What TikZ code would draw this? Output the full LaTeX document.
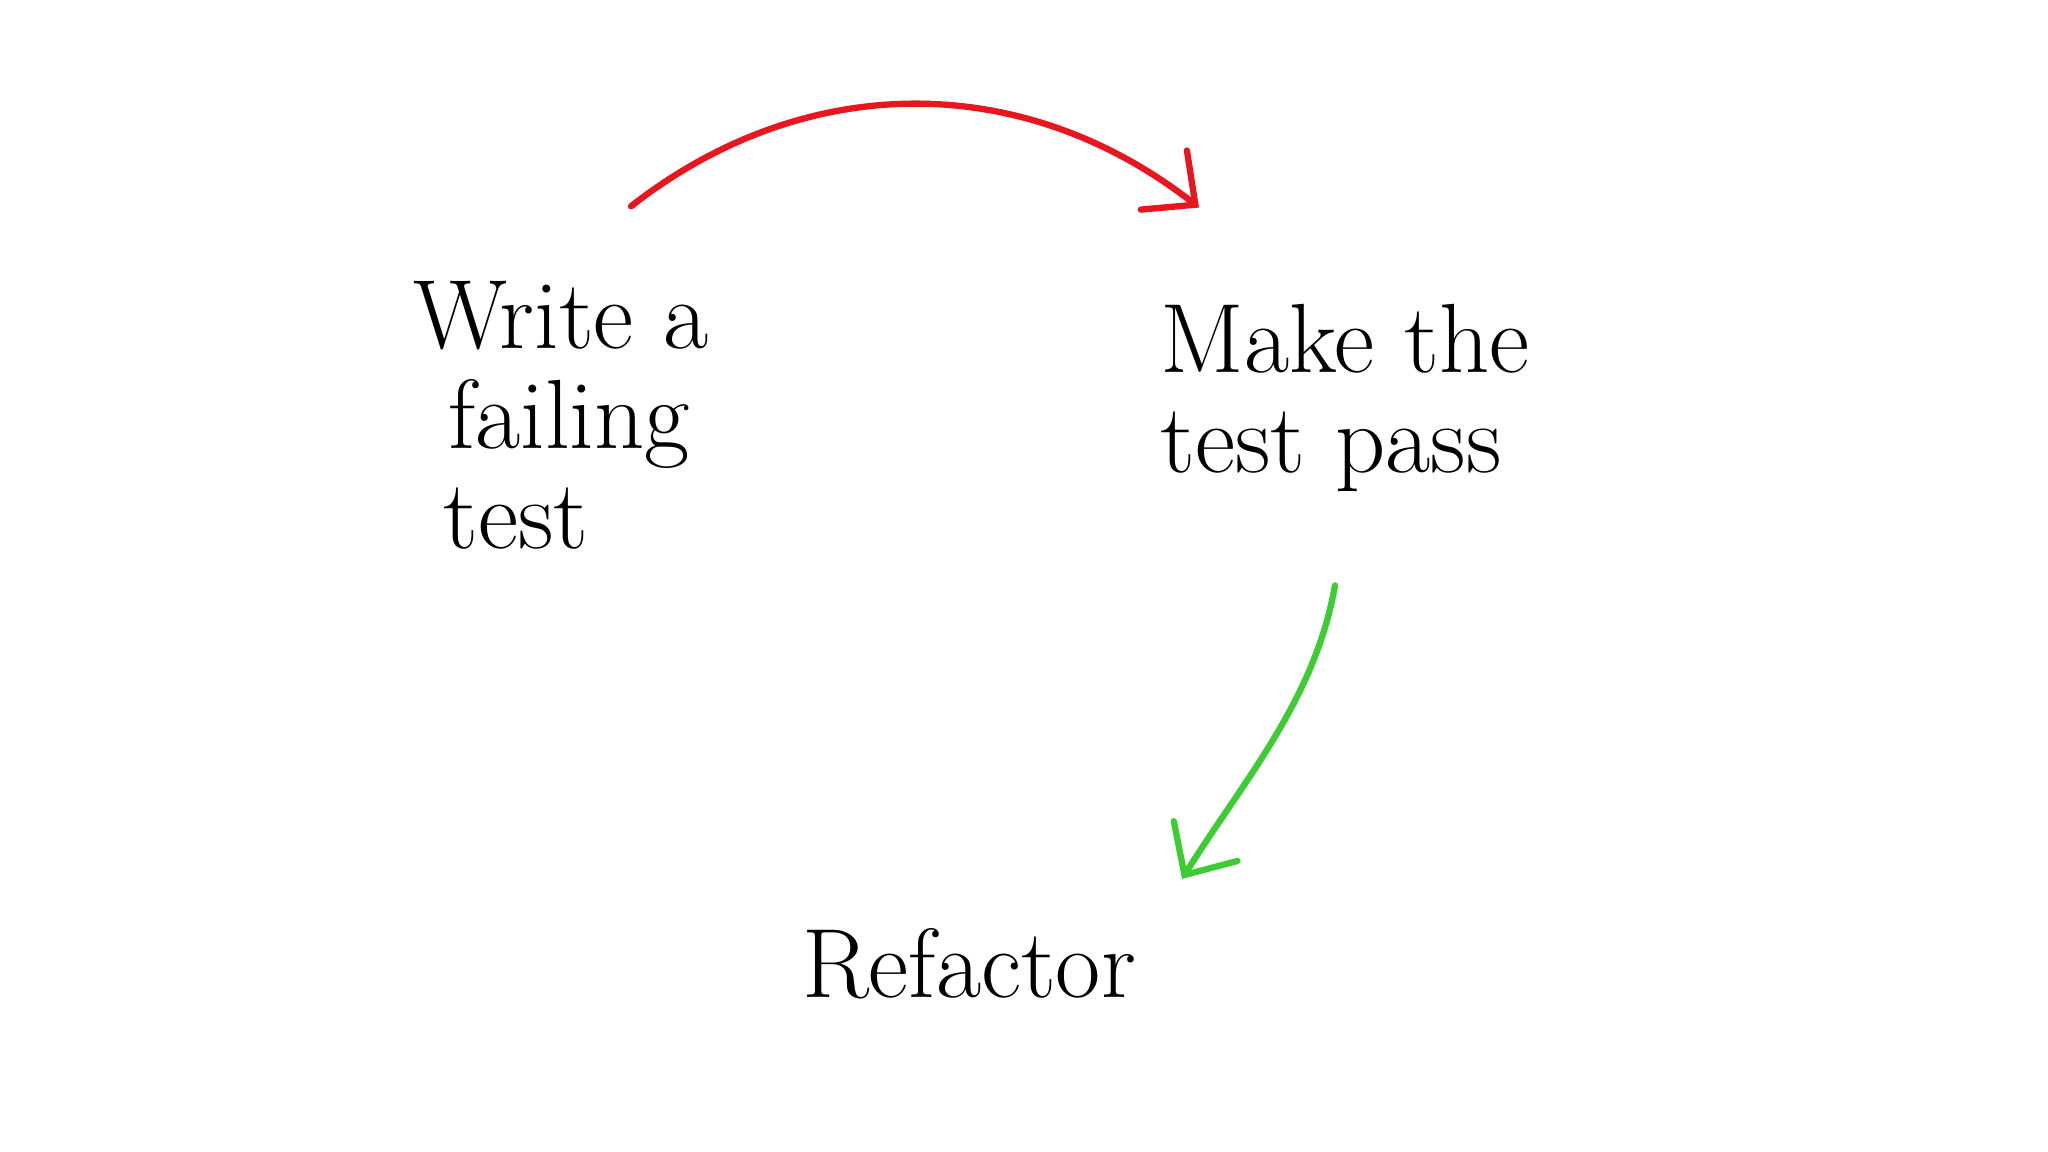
\documentclass[tikz,border=0pt]{standalone}
\usepackage{amsmath, amssymb}
\usetikzlibrary{arrows.meta}

\definecolor{failred}{RGB}{232,22,30}
\definecolor{passgreen}{RGB}{62,204,52}

\begin{document}
\begin{tikzpicture}[
    hand/.style={inner sep=0pt, align=left, font=\fontsize{28}{28.45}\selectfont},
    cyclearrow/.style={line width=1.8pt, line cap=round,
        -{Straight Barb[length=4mm, width=7.5mm, line cap=round]}}
]

% Fix the page size
\useasboundingbox[fill=white] (0,0) rectangle (20.48,11.52);

% Add the three steps
\node[hand] (write) at (5.61,7.37) {Write a\\\hspace{0.35cm}failing\\\hspace{0.3cm}test};
\node[hand] (make) at (13.45,7.54) {Make the\\test pass};
\node[hand] (refactor) at (9.69,1.88) {Refactor};

% Draw the red arrow
\draw[cyclearrow, failred] ([xshift=7mm,yshift=7.4mm]write.north)
    to[out=38, in=142] ([xshift=-14.6mm,yshift=9.6mm]make.north);

% Draw the green arrow
\draw[cyclearrow, passgreen] ([xshift=-1mm,yshift=-9.3mm]make.south)
    to[out=-100, in=58, looseness=0.9] ([xshift=21.3mm,yshift=4.9mm]refactor.north);

\end{tikzpicture}
\end{document}
